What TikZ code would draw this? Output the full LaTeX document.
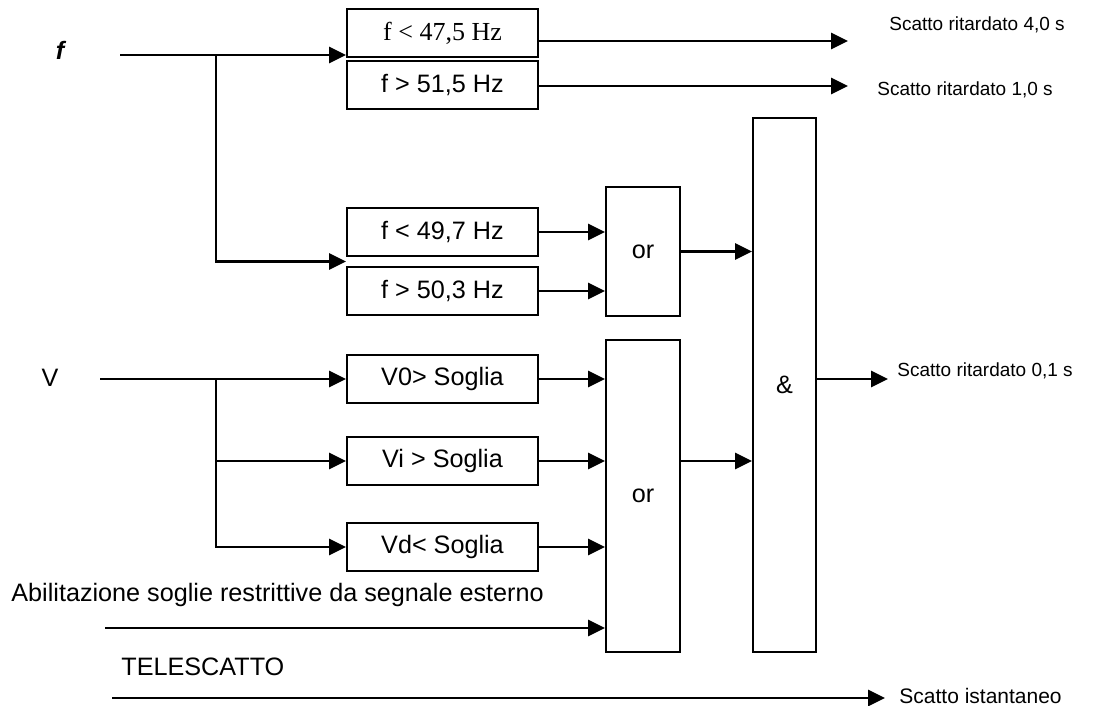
\documentclass[tikz,border=0pt]{standalone}
\usepackage{fontspec}
\setmainfont{Liberation Sans}
\newfontfamily\timesfont{Liberation Serif}
\usetikzlibrary{arrows.meta, positioning, calc}

\begin{document}
\begin{tikzpicture}[x=0.5pt, y=-0.5pt, >={Triangle[length=8.5pt, width=8pt]},
  line width=1.4pt,
  blk/.style={draw, line width=1pt, inner sep=0pt, minimum width=95.5pt,
              minimum height=24pt, font=\fontsize{12.6}{14}\selectfont},
  gate/.style={draw, line width=1pt, inner sep=0pt, minimum width=37pt,
               font=\fontsize{12.6}{14}\selectfont},
  lbl/.style={anchor=west, inner sep=0pt, font=\fontsize{12.6}{14}\selectfont},
  outlbl/.style={anchor=west, inner sep=0pt, font=\fontsize{9.5}{11}\selectfont}]
  \useasboundingbox (0,0) rectangle (1094,706);
  % Threshold blocks
  \node[blk, font=\timesfont\fontsize{13}{15}\selectfont] (F1) at (442.5,33) {f < 47,5 Hz};
  \node[blk] (F2) at (442.5,85) {f > 51,5 Hz};
  \node[blk] (F3) at (442.5,232) {f < 49,7 Hz};
  \node[blk] (F4) at (442.5,291) {f > 50,3 Hz};
  \node[blk] (V0) at (442.5,379) {V0> Soglia};
  \node[blk] (Vi) at (442.5,461) {Vi > Soglia};
  \node[blk] (Vd) at (442.5,547) {Vd< Soglia};
  % Logic gates
  \node[gate, minimum height=64.5pt] (OR1) at (643,251.5) {or};
  \node[gate, minimum height=156pt] (OR2) at (643,496) {or};
  \node[gate, minimum width=31.5pt, minimum height=267pt] (AND) at (784.5,385) {\&};
  % Inputs
  \node[font=\bfseries\itshape\fontsize{12.6}{14}\selectfont] (f) at (60,50) {f};
  \node[font=\fontsize{12.6}{14}\selectfont] (V) at (50,378) {V};
  \coordinate (fin) at (120,55);
  \coordinate (fj) at (216,55);
  \coordinate (vin) at (100,379);
  \coordinate (vj) at (216,379);
  \coordinate (fb) at ($(F3.south west)!0.5!(F4.north west)$);
  % Frequency branch
  \draw[->] (fin) -- (F1.west |- fin);
  \draw[->] (fj) |- (fb);
  \draw[->] (F3.east) -- (OR1.west |- F3.east);
  \draw[->] (F4.east) -- (OR1.west |- F4.east);
  \draw[->] (OR1.east) -- (AND.west |- OR1.east);
  % Voltage branch
  \draw[->] (vin) -- (V0.west);
  \draw[->] (vj) |- (Vi.west);
  \draw[->] (vj) |- (Vd.west);
  \draw[->] (V0.east) -- (OR2.west |- V0.east);
  \draw[->] (Vi.east) -- (OR2.west |- Vi.east);
  \draw[->] (Vd.east) -- (OR2.west |- Vd.east);
  \draw[->] (OR2.east |- Vi.east) -- (AND.west |- Vi.east);
  % External enable and teletrip
  \node[lbl] (ab) at (10,595) {Abilitazione soglie restrittive da segnale esterno};
  \coordinate (abin) at (105,628);
  \draw[->] (abin) -- (OR2.west |- abin);
  \node[lbl] (tel) at (120,667) {TELESCATTO};
  \coordinate (telin) at (112,698);
  \coordinate (o4) at (885,698);
  \draw[->] (telin) -- (o4);
  % Outputs
  \coordinate (o1) at (848,41);
  \coordinate (o2) at (848,86);
  \coordinate (o3) at (888,379);
  \draw[->] (F1.east |- o1) -- (o1);
  \draw[->] (F2.east |- o2) -- (o2);
  \draw[->] (AND.east |- o3) -- (o3);
  \node[outlbl] (t1) at (888,25) {Scatto ritardato 4,0 s};
  \node[outlbl] (t2) at (876,90) {Scatto ritardato 1,0 s};
  \node[outlbl] (t3) at (896,371) {Scatto ritardato 0,1 s};
  \node[outlbl, font=\fontsize{10.5}{12}\selectfont] (t4) at (898,696) {Scatto istantaneo};
\end{tikzpicture}
\end{document}
